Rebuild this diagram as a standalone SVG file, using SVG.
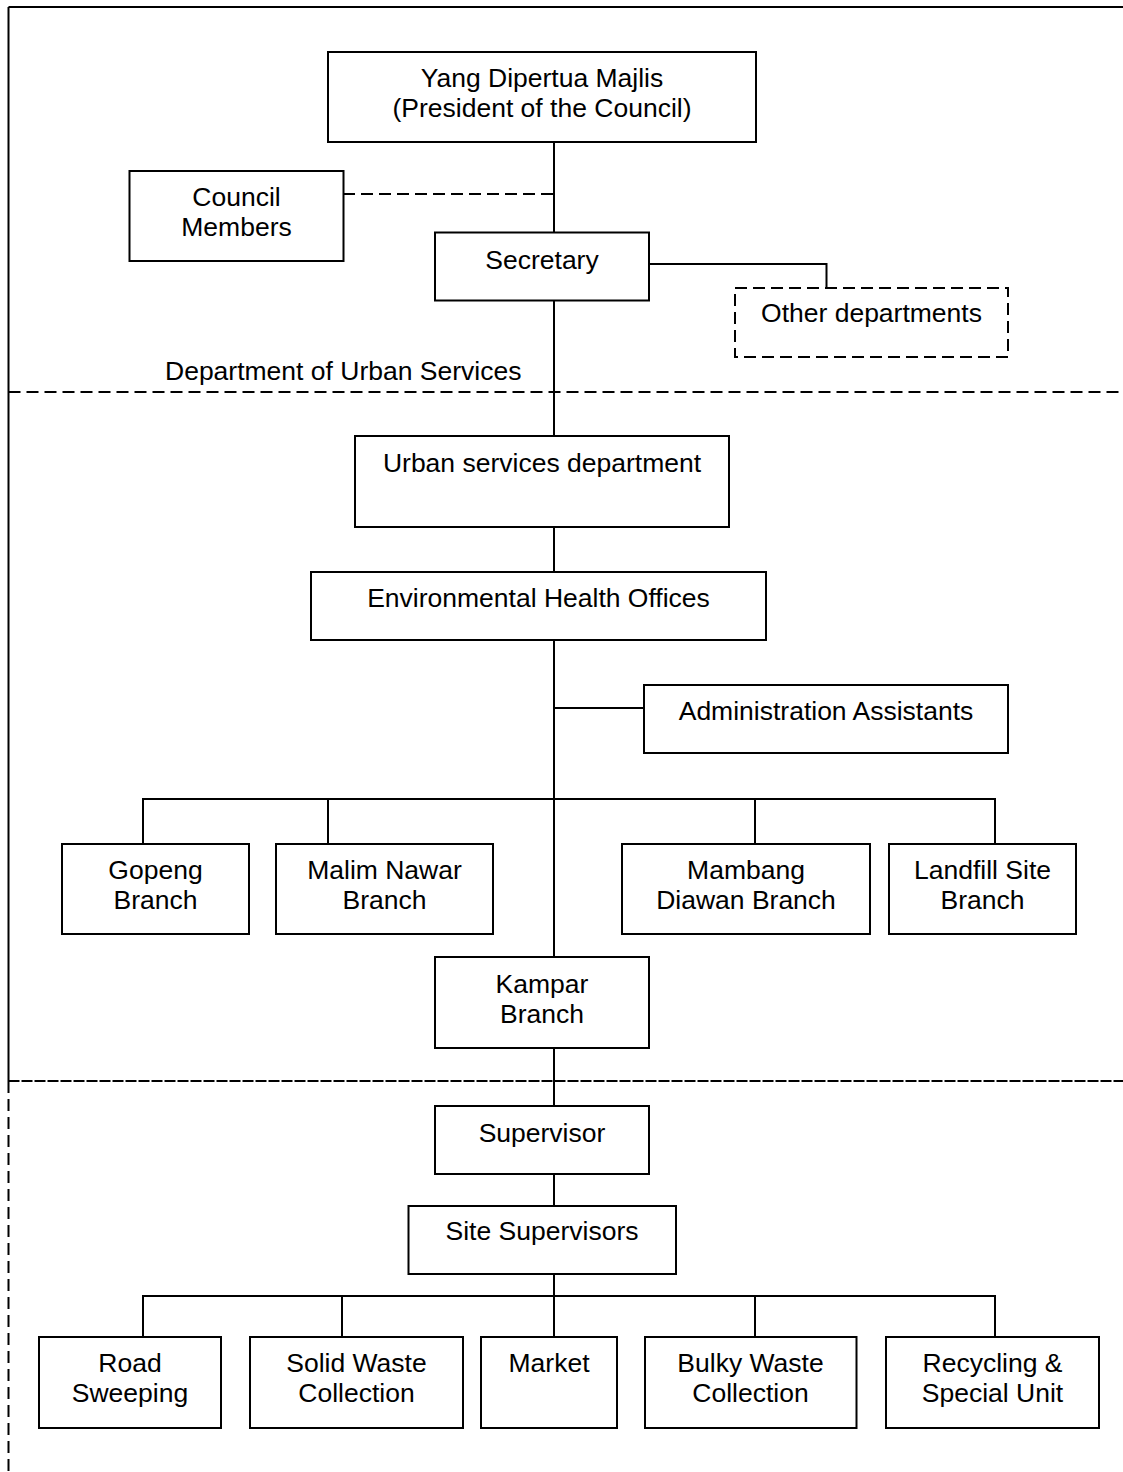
<svg xmlns="http://www.w3.org/2000/svg" width="1123" height="1472" viewBox="0 0 1123 1472">
  <style>
    .box { fill: #ffffff; stroke: #000000; stroke-width: 2; }
    .dbox { fill: #ffffff; stroke: #000000; stroke-width: 2; stroke-dasharray: 12 6; }
    .ln { fill: none; stroke: #000000; stroke-width: 2; }
    .dl { fill: none; stroke: #000000; stroke-width: 2; stroke-dasharray: 12 6; }
    .fine { fill: none; stroke: #000000; stroke-width: 2; stroke-dasharray: 11 2; }
    text { font-family: "Liberation Sans", Arial, sans-serif; font-size: 26.5px; fill: #000000; text-anchor: middle; }
    .lab { text-anchor: start; }
  </style>
  <rect width="1123" height="1472" fill="#ffffff"/>

  <!-- section frame and dividers -->
  <g id="frame">
    <path class="ln" d="M8.5 7 H1123"/>
    <path class="ln" d="M8.5 7 V1081"/>
    <path class="dl" d="M8.5 1081 V1472"/>
    <path class="dl" d="M8.5 392 H1123"/>
    <path class="fine" d="M8.5 1081 H1123"/>
    <text class="lab" x="165" y="380">Department of Urban Services</text>
  </g>

  <!-- connectors -->
  <g id="connectors">
    <path class="ln" d="M554 142 V232"/>
    <path class="dl" d="M343 194 H554"/>
    <path class="ln" d="M649 264 H826.5 V288"/>
    <path class="ln" d="M554 301 V436"/>
    <path class="ln" d="M554 527 V572"/>
    <path class="ln" d="M554 640 V957"/>
    <path class="ln" d="M554 708 H644"/>
    <path class="ln" d="M143 844 V799 H995 V844"/>
    <path class="ln" d="M328 799 V844"/>
    <path class="ln" d="M755 799 V844"/>
    <path class="ln" d="M554 1048 V1106"/>
    <path class="ln" d="M554 1174 V1206"/>
    <path class="ln" d="M554 1274 V1337"/>
    <path class="ln" d="M143 1337 V1296 H995 V1337"/>
    <path class="ln" d="M342 1296 V1337"/>
    <path class="ln" d="M755 1296 V1337"/>
  </g>

  <g id="president">
    <rect class="box" x="328" y="52" width="428" height="90"/>
    <text x="542" y="87">Yang Dipertua Majlis</text>
    <text x="542" y="117">(President of the Council)</text>
  </g>

  <g id="council-members">
    <rect class="box" x="129.5" y="171" width="214" height="90"/>
    <text x="236.5" y="206">Council</text>
    <text x="236.5" y="236">Members</text>
  </g>

  <g id="secretary">
    <rect class="box" x="435" y="232.5" width="214" height="68"/>
    <text x="542" y="269">Secretary</text>
  </g>

  <g id="other-departments">
    <rect class="dbox" x="735" y="288" width="273" height="69"/>
    <text x="871.5" y="322">Other departments</text>
  </g>

  <g id="urban-services">
    <rect class="box" x="355" y="436" width="374" height="91"/>
    <text x="542" y="472">Urban services department</text>
  </g>

  <g id="environmental-health">
    <rect class="box" x="311" y="572" width="455" height="68"/>
    <text x="538.5" y="607">Environmental Health Offices</text>
  </g>

  <g id="administration-assistants">
    <rect class="box" x="644" y="685" width="364" height="68"/>
    <text x="826" y="720">Administration Assistants</text>
  </g>

  <g id="gopeng">
    <rect class="box" x="62" y="844" width="187" height="90"/>
    <text x="155.5" y="879">Gopeng</text>
    <text x="155.5" y="909">Branch</text>
  </g>

  <g id="malim-nawar">
    <rect class="box" x="276" y="844" width="217" height="90"/>
    <text x="384.5" y="879">Malim Nawar</text>
    <text x="384.5" y="909">Branch</text>
  </g>

  <g id="mambang-diawan">
    <rect class="box" x="622" y="844" width="248" height="90"/>
    <text x="746" y="879">Mambang</text>
    <text x="746" y="909">Diawan Branch</text>
  </g>

  <g id="landfill-site">
    <rect class="box" x="889" y="844" width="187" height="90"/>
    <text x="982.5" y="879">Landfill Site</text>
    <text x="982.5" y="909">Branch</text>
  </g>

  <g id="kampar">
    <rect class="box" x="435" y="957" width="214" height="91"/>
    <text x="542" y="993">Kampar</text>
    <text x="542" y="1023">Branch</text>
  </g>

  <g id="supervisor">
    <rect class="box" x="435" y="1106" width="214" height="68"/>
    <text x="542" y="1142">Supervisor</text>
  </g>

  <g id="site-supervisors">
    <rect class="box" x="408.5" y="1206" width="267.5" height="68"/>
    <text x="542" y="1240">Site Supervisors</text>
  </g>

  <g id="road-sweeping">
    <rect class="box" x="39" y="1337" width="182" height="91"/>
    <text x="130" y="1372">Road</text>
    <text x="130" y="1402">Sweeping</text>
  </g>

  <g id="solid-waste">
    <rect class="box" x="250" y="1337" width="213" height="91"/>
    <text x="356.5" y="1372">Solid Waste</text>
    <text x="356.5" y="1402">Collection</text>
  </g>

  <g id="market">
    <rect class="box" x="481" y="1337" width="136" height="91"/>
    <text x="549" y="1372">Market</text>
  </g>

  <g id="bulky-waste">
    <rect class="box" x="645" y="1337" width="211.5" height="91"/>
    <text x="750.5" y="1372">Bulky Waste</text>
    <text x="750.5" y="1402">Collection</text>
  </g>

  <g id="recycling">
    <rect class="box" x="886" y="1337" width="213" height="91"/>
    <text x="992.5" y="1372">Recycling &amp;</text>
    <text x="992.5" y="1402">Special Unit</text>
  </g>
</svg>
